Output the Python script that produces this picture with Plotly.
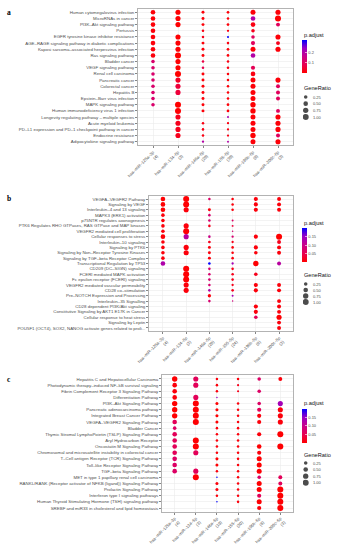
import math
import plotly.graph_objects as go

N = None
W, H = 338, 550

mirnas = ["hsa–miR–125a–3p", "hsa–miR–134–5p", "hsa–miR–146a–5p",
          "hsa–miR–155–5p", "hsa–miR–196b–5p", "hsa–miR–200c–5p"]
a_counts = [4, 3, 20, 30, 8, 3]
b_counts = [4, 3, 20, 24, 8, 3]
c_counts = [4, 3, 19, 30, 8, 3]
size_levels = [0.25, 0.50, 0.75, 1.00]
size_level_text = ["0.25", "0.50", "0.75", "1.00"]

# ---------------- panel a (KEGG) ----------------
a_terms = ["Human cytomegalovirus infection", "MicroRNAs in cancer", "PI3K–Akt signaling pathway",
           "Pertussis", "EGFR tyrosine kinase inhibitor resistance",
           "AGE–RAGE signaling pathway in diabetic complications",
           "Kaposi sarcoma–associated herpesvirus infection", "Ras signaling pathway",
           "Bladder cancer", "VEGF signaling pathway", "Renal cell carcinoma", "Pancreatic cancer",
           "Colorectal cancer", "Hepatitis B", "Epstein–Barr virus infection",
           "MAPK signaling pathway", "Human immunodeficiency virus 1 infection",
           "Longevity regulating pathway – multiple species", "Acute myeloid leukemia",
           "PD–L1 expression and PD–1 checkpoint pathway in cancer", "Endocrine resistance",
           "Adipocytokine signaling pathway"]
a_ratio_125a = [0.5, 0.5, 0.5, 0.5, 0.5, 0.5, 0.5, 0.5, 0.25, 0.25, 0.25, 0.25, 0.25, 0.25, 0.25, 0.25, N, N, N, N, N, N]
a_padj_125a = [0.01, 0.01, 0.01, 0.012, 0.012, 0.012, 0.012, 0.014, 0.12, 0.12, 0.12, 0.12, 0.12, 0.12, 0.12, 0.12, N, N, N, N, N, N]
a_ratio_134 = [0.67, 0.67, 0.67, N, 0.67, 0.67, 0.67, 1.0, 0.67, 0.67, 1.0, 0.67, 0.67, 0.67, N, 1.0, 1.0, 0.67, 0.67, 0.67, 0.67, N]
a_padj_134 = [0.004, 0.006, 0.004, N, 0.005, 0.006, 0.004, 0.002, 0.005, 0.005, 0.002, 0.04, 0.06, 0.06, N, 0.002, 0.004, 0.03, 0.03, 0.03, 0.03, N]
a_ratio_146a = [0.15, 0.15, 0.15, 0.1, 0.1, 0.15, 0.15, 0.15, 0.1, 0.1, 0.15, 0.15, 0.15, 0.15, 0.15, 0.15, 0.15, N, 0.1, 0.1, 0.1, 0.08]
a_padj_146a = [0.01, 0.01, 0.01, 0.02, 0.03, 0.01, 0.01, 0.01, 0.07, 0.08, 0.01, 0.01, 0.01, 0.01, 0.01, 0.01, 0.01, N, 0.02, 0.02, 0.02, 0.2]
a_ratio_155 = [0.12, 0.1, 0.12, 0.08, 0.06, 0.1, 0.12, 0.12, 0.1, 0.1, 0.1, 0.1, 0.1, 0.1, 0.1, 0.12, 0.12, 0.06, 0.08, 0.08, 0.08, 0.06]
a_padj_155 = [0.01, 0.01, 0.01, 0.02, 0.32, 0.02, 0.01, 0.01, 0.02, 0.02, 0.01, 0.01, 0.01, 0.01, 0.01, 0.01, 0.01, 0.22, 0.02, 0.02, 0.02, 0.2]
a_ratio_196b = [0.625, 0.5, 0.5, 0.25, 0.25, 0.375, 0.625, 0.5, N, 0.375, 0.5, 0.625, 0.625, 0.625, 0.625, 0.75, 0.75, 0.625, 0.625, 0.625, 0.75, 0.625]
a_padj_196b = [0.01, 0.2, 0.02, 0.03, 0.1, 0.1, 0.01, 0.2, N, 0.09, 0.02, 0.01, 0.01, 0.01, 0.01, 0.005, 0.005, 0.01, 0.01, 0.01, 0.005, 0.01]
a_ratio_200c = [0.67, 1.0, 0.33, N, 0.67, 0.33, 0.67, N, N, N, N, 0.67, 0.33, 0.33, 0.33, N, 0.33, 0.67, 0.67, 0.67, 0.33, 0.67]
a_padj_200c = [0.01, 0.005, 0.1, N, 0.01, 0.03, 0.01, N, N, N, N, 0.01, 0.1, 0.1, 0.1, N, 0.1, 0.01, 0.01, 0.01, 0.1, 0.01]

# ---------------- panel b (Reactome) ----------------
b_terms = ["VEGFA–VEGFR2 Pathway", "Signaling by VEGF", "Interleukin–4 and 13 signaling",
           "MAPK3 (ERK1) activation", "p75NTR regulates axonogenesis",
           "PTK6 Regulates RHO GTPases, RAS GTPase and MAP kinases",
           "VEGFR2 mediated cell proliferation", "Cellular responses to stress",
           "Interleukin–10 signaling", "Signaling by PTK6", "Signaling by Non–Receptor Tyrosine Kinases",
           "Signaling by TGF–beta Receptor Complex", "Transcriptional Regulation by TP53",
           "CD209 (DC–SIGN) signaling", "FCERI mediated MAPK activation",
           "Fc epsilon receptor (FCERI) signaling", "VEGFR2 mediated vascular permeability",
           "CD28 co–stimulation", "Pre–NOTCH Expression and Processing", "Interleukin–35 Signalling",
           "CD28 dependent PI3K/Akt signaling", "Constitutive Signaling by AKT1 E17K in Cancer",
           "Cellular response to heat stress", "Signaling by Leptin",
           "POU5F1 (OCT4), SOX2, NANOG activate genes related to proli..."]
b_ratio_125a = [0.5, 0.5, 0.5, 0.25, 0.25, 0.25, 0.25, 0.5, 0.25, 0.25, 0.25, 0.25, 0.5, N, N, N, N, N, N, N, N, N, N, N, N]
b_padj_125a = [0.005, 0.005, 0.005, 0.01, 0.01, 0.01, 0.01, 0.008, 0.01, 0.01, 0.01, 0.01, 0.13, N, N, N, N, N, N, N, N, N, N, N, N]
b_ratio_134 = [1.0, 1.0, 0.67, N, N, 0.67, 1.0, 0.67, N, 0.67, 0.67, N, N, 1.0, 1.0, 1.0, 0.67, 0.67, N, N, N, N, N, N, N]
b_padj_134 = [0.005, 0.005, 0.01, N, N, 0.01, 0.005, 0.12, N, 0.01, 0.01, N, N, 0.005, 0.005, 0.005, 0.01, 0.01, N, N, N, N, N, N, N]
b_ratio_146a = [0.1, N, 0.15, 0.1, 0.1, 0.1, N, 0.1, 0.12, 0.15, 0.15, 0.15, 0.1, 0.1, 0.1, 0.1, 0.1, 0.1, 0.2, 0.1, N, N, N, N, N]
b_padj_146a = [0.07, N, 0.01, 0.08, 0.08, 0.02, N, 0.1, 0.02, 0.01, 0.01, 0.01, 0.2, 0.08, 0.08, 0.08, 0.08, 0.13, 0.01, 0.08, N, N, N, N, N]
b_ratio_155 = [0.1, 0.1, 0.1, N, 0.06, 0.06, 0.05, 0.08, 0.08, 0.1, 0.1, 0.1, 0.08, 0.1, 0.1, 0.1, 0.08, 0.1, 0.06, 0.05, N, N, N, N, N]
b_padj_155 = [0.01, 0.01, 0.01, N, 0.07, 0.04, 0.08, 0.08, 0.02, 0.01, 0.01, 0.01, 0.14, 0.02, 0.02, 0.02, 0.02, 0.02, 0.14, 0.09, N, N, N, N, N]
b_ratio_196b = [0.375, 0.375, 0.375, N, N, N, N, 0.375, N, 0.375, 0.25, N, 0.75, N, 0.25, N, 0.375, 0.375, N, N, 0.375, 0.375, 0.25, N, N]
b_padj_196b = [0.01, 0.01, 0.01, N, N, N, N, 0.01, N, 0.01, 0.01, N, 0.005, N, 0.02, N, 0.01, 0.01, N, N, 0.01, 0.01, 0.06, N, N]
b_ratio_200c = [0.33, 0.33, 0.33, N, N, N, N, 1.0, 0.33, 0.33, 0.33, N, 0.33, N, N, N, 0.33, 0.33, N, 0.33, 0.33, 0.33, 0.67, 0.33, 0.33]
b_padj_200c = [0.01, 0.01, 0.01, N, N, N, N, 0.003, 0.02, 0.01, 0.01, N, 0.12, N, N, N, 0.01, 0.01, N, 0.01, 0.01, 0.01, 0.005, 0.01, 0.01]

# ---------------- panel c (WikiPathways) ----------------
c_terms = ["Hepatitis C and Hepatocellular Carcinoma",
           "Photodynamic therapy–induced NF–kB survival signaling",
           "Fibrin Complement Receptor 3 Signaling Pathway", "Differentiation Pathway",
           "PI3K–Akt Signaling Pathway", "Pancreatic adenocarcinoma pathway",
           "Integrated Breast Cancer Pathway", "VEGFA–VEGFR2 Signaling Pathway", "Bladder Cancer",
           "Thymic Stromal LymphoPoietin (TSLP) Signaling Pathway", "Aryl Hydrocarbon Receptor",
           "Oncostatin M Signaling Pathway",
           "Chromosomal and microsatellite instability in colorectal cancer",
           "T–Cell antigen Receptor (TCR) Signaling Pathway", "Toll–like Receptor Signaling Pathway",
           "TGF–beta Signaling Pathway", "MET in type 1 papillary renal cell carcinoma",
           "RANKL/RANK (Receptor activator of NFKB (ligand)) Signaling Pathway",
           "Prolactin Signaling Pathway", "Interferon type I signaling pathways",
           "Human Thyroid Stimulating Hormone (TSH) signaling pathway",
           "SREBF and miR33 in cholesterol and lipid homeostasis"]
c_ratio_125a = [0.75, 0.5, 0.5, 0.5, 0.75, 0.75, 0.75, 0.5, 0.25, 0.5, 0.5, 0.5, 0.5, 0.5, 0.5, 0.5, N, N, N, N, N, N]
c_padj_125a = [0.005, 0.01, 0.01, 0.01, 0.003, 0.003, 0.003, 0.06, 0.07, 0.06, 0.06, 0.06, 0.06, 0.07, 0.07, 0.07, N, N, N, N, N, N]
c_ratio_134 = [0.67, 0.67, N, 0.67, 1.0, 1.0, 1.0, 1.0, N, N, 1.0, 1.0, 0.67, N, N, 0.67, 1.0, N, N, N, N, N]
c_padj_134 = [0.06, 0.06, N, 0.06, 0.005, 0.005, 0.005, 0.005, N, N, 0.005, 0.005, 0.06, N, N, 0.06, 0.005, N, N, N, N, N]
c_ratio_146a = [0.1, 0.1, 0.1, 0.05, 0.16, 0.16, 0.16, 0.16, 0.1, 0.1, 0.1, 0.1, 0.1, 0.16, 0.16, 0.1, 0.05, 0.16, 0.16, 0.1, 0.05, N]
c_padj_146a = [0.01, 0.01, 0.01, 0.15, 0.005, 0.005, 0.005, 0.005, 0.01, 0.01, 0.01, 0.01, 0.01, 0.005, 0.005, 0.01, 0.2, 0.01, 0.01, 0.01, 0.2, N]
c_ratio_155 = [0.1, 0.07, 0.07, N, 0.1, 0.1, 0.1, 0.1, 0.1, 0.1, 0.1, 0.1, 0.1, 0.1, 0.1, 0.1, 0.1, 0.1, 0.1, 0.1, 0.1, N]
c_padj_155 = [0.01, 0.02, 0.02, N, 0.01, 0.01, 0.01, 0.01, 0.01, 0.01, 0.01, 0.01, 0.01, 0.01, 0.01, 0.01, 0.01, 0.01, 0.01, 0.01, 0.01, N]
c_ratio_196b = [0.25, N, 0.25, N, 0.25, 0.375, 0.375, 0.375, N, 0.375, N, 0.5, 0.375, 0.625, 0.625, 0.625, 0.25, 0.625, 0.625, 0.375, 0.625, 0.375]
c_padj_196b = [0.07, N, 0.07, N, 0.07, 0.06, 0.01, 0.01, N, 0.01, N, 0.005, 0.01, 0.005, 0.005, 0.005, 0.07, 0.005, 0.005, 0.06, 0.005, 0.01]
c_ratio_200c = [0.33, N, N, N, 0.67, 0.67, 0.67, 0.67, N, 1.0, N, 1.0, N, N, N, N, 0.33, 0.33, 1.0, 1.0, 1.0, 1.0]
c_padj_200c = [0.01, N, N, N, 0.14, 0.01, 0.01, 0.01, N, 0.005, N, 0.005, N, N, N, N, 0.06, 0.06, 0.005, 0.005, 0.005, 0.005]

# ---------------- styling / layout helpers ----------------
FONT = "Liberation Sans"
COLORSCALE = [[0.0, "#FF0000"], [0.25, "#E8004F"], [0.5, "#C90088"], [0.75, "#9A00C3"], [1.0, "#0000FF"]]


def size_px(r):
    return 1.5 + 4.5 * math.sqrt(max(r - 0.05, 0) / 0.95)


def px_x(p):
    return p / W


def px_y(p):
    return 1 - p / H


panels = [
    dict(label="a", terms=a_terms, counts=a_counts,
         ratios=[a_ratio_125a, a_ratio_134, a_ratio_146a, a_ratio_155, a_ratio_196b, a_ratio_200c],
         padjs=[a_padj_125a, a_padj_134, a_padj_146a, a_padj_155, a_padj_196b, a_padj_200c],
         box=(138, 8.6, 293, 145.4), label_y=12, cb_top=40, cb_len=33, cb_ticks=[0.1, 0.2],
         cb_ticktext=["0.1", "0.2"], cb_title_y=35, leg_title_y=88.5, leg_first=97, leg_last=117),
    dict(label="b", terms=b_terms, counts=b_counts,
         ratios=[b_ratio_125a, b_ratio_134, b_ratio_146a, b_ratio_155, b_ratio_196b, b_ratio_200c],
         padjs=[b_padj_125a, b_padj_134, b_padj_146a, b_padj_155, b_padj_196b, b_padj_200c],
         box=(149, 195.8, 293, 331.2), label_y=198, cb_top=228, cb_len=33.5, cb_ticks=[0.05, 0.10, 0.15],
         cb_ticktext=["0.05", "0.10", "0.15"], cb_title_y=223, leg_title_y=275, leg_first=284, leg_last=302),
    dict(label="c", terms=c_terms, counts=c_counts,
         ratios=[c_ratio_125a, c_ratio_134, c_ratio_146a, c_ratio_155, c_ratio_196b, c_ratio_200c],
         padjs=[c_padj_125a, c_padj_134, c_padj_146a, c_padj_155, c_padj_196b, c_padj_200c],
         box=(162, 375.3, 293, 511.7), label_y=379, cb_top=408.5, cb_len=34, cb_ticks=[0.05, 0.10, 0.15],
         cb_ticktext=["0.05", "0.10", "0.15"], cb_title_y=403, leg_title_y=455, leg_first=463, leg_last=482.7),
]

fig = go.Figure()
layout = dict(width=W, height=H, margin=dict(l=0, r=0, t=0, b=0, pad=0, autoexpand=False),
              paper_bgcolor="white", plot_bgcolor="white", showlegend=False,
              font=dict(family=FONT, size=4.4, color="#4d4d4d"))
annotations = []

for i, pnl in enumerate(panels):
    k = i + 1
    sfx = "" if k == 1 else str(k)
    terms = pnl["terms"]
    xcats = [f"{m}<br>({n})" for m, n in zip(mirnas, pnl["counts"])]
    xs, ys, cs, ss = [], [], [], []
    for ci, (rat, pad) in enumerate(zip(pnl["ratios"], pnl["padjs"])):
        assert len(rat) == len(terms) and len(pad) == len(terms)
        for ri, (r, p) in enumerate(zip(rat, pad)):
            if r is None:
                continue
            xs.append(xcats[ci])
            ys.append(terms[ri])
            cs.append(p)
            ss.append(size_px(r))
    allp = [p for col in pnl["padjs"] for p in col if p is not None]
    fig.add_trace(go.Scatter(
        x=xs, y=ys, mode="markers", xaxis="x" + sfx, yaxis="y" + sfx,
        marker=dict(size=ss, color=cs, coloraxis="coloraxis" + sfx, line=dict(width=0), opacity=1),
        hoverinfo="skip"))

    x0, y0, x1, y1 = pnl["box"]
    n = len(terms)
    layout["xaxis" + sfx] = dict(
        domain=[px_x(x0), px_x(x1)], anchor="y" + sfx, type="category",
        categoryorder="array", categoryarray=xcats, range=[-0.6, 5.6],
        tickangle=-45, tickfont=dict(size=4.2, color="#4d4d4d", family=FONT),
        ticks="outside", ticklen=2, tickwidth=0.6, tickcolor="#333",
        showline=True, mirror=True, linecolor="#a0a0a0", linewidth=0.8,
        showgrid=True, gridcolor="#ebebeb", gridwidth=0.6, zeroline=False, fixedrange=True)
    layout["yaxis" + sfx] = dict(
        domain=[px_y(y1), px_y(y0)], anchor="x" + sfx, type="category",
        categoryorder="array", categoryarray=terms, range=[n - 0.4, -0.6],
        tickfont=dict(size=4.4, color="#4d4d4d", family=FONT),
        ticks="outside", ticklen=2, tickwidth=0.6, tickcolor="#333",
        showline=True, mirror=True, linecolor="#a0a0a0", linewidth=0.8,
        showgrid=True, gridcolor="#ebebeb", gridwidth=0.6, zeroline=False, fixedrange=True)

    layout["coloraxis" + sfx] = dict(
        colorscale=COLORSCALE, cmin=min(allp), cmax=max(allp),
        colorbar=dict(x=px_x(302), xanchor="left", y=px_y(pnl["cb_top"]), yanchor="top",
                      len=pnl["cb_len"], lenmode="pixels", thickness=5, thicknessmode="pixels",
                      xpad=0, ypad=0, outlinewidth=0,
                      tickvals=pnl["cb_ticks"], ticktext=pnl["cb_ticktext"],
                      ticks="inside", ticklen=1.5, tickcolor="white", tickwidth=0.6,
                      tickfont=dict(size=4, color="#4d4d4d", family=FONT)))

    # size legend on its own hidden axis
    lk = k + 3
    lp0, lp1 = pnl["leg_first"], pnl["leg_last"]
    scale = (lp1 - lp0) / (size_levels[-1] - size_levels[0])
    pad = 8
    top_px, bot_px = lp0 - pad, lp1 + pad
    layout[f"xaxis{lk}"] = dict(domain=[px_x(303), px_x(333)], range=[0, 30], visible=False,
                                anchor=f"y{lk}", fixedrange=True)
    layout[f"yaxis{lk}"] = dict(domain=[px_y(bot_px), px_y(top_px)],
                                range=[size_levels[-1] + pad / scale, size_levels[0] - pad / scale],
                                visible=False, anchor=f"x{lk}", fixedrange=True)
    fig.add_trace(go.Scatter(
        x=[2.7] * len(size_levels), y=size_levels, mode="markers",
        xaxis=f"x{lk}", yaxis=f"y{lk}",
        marker=dict(size=[size_px(v) for v in size_levels], color="black", line=dict(width=0)),
        hoverinfo="skip"))
    for v, t in zip(size_levels, size_level_text):
        annotations.append(dict(x=8, y=v, xref=f"x{lk}", yref=f"y{lk}", text=t, showarrow=False,
                                xanchor="left", yanchor="middle",
                                font=dict(size=4, color="#4d4d4d", family=FONT)))

    annotations.append(dict(x=px_x(301.5), y=px_y(pnl["cb_title_y"]), xref="paper", yref="paper",
                            text="p.adjust", showarrow=False, xanchor="left", yanchor="middle",
                            font=dict(size=5.6, color="#111", family=FONT)))
    annotations.append(dict(x=px_x(301.5), y=px_y(pnl["leg_title_y"]), xref="paper", yref="paper",
                            text="GeneRatio", showarrow=False, xanchor="left", yanchor="middle",
                            font=dict(size=5.6, color="#111", family=FONT)))
    annotations.append(dict(x=px_x(5), y=px_y(pnl["label_y"]), xref="paper", yref="paper",
                            text=f"<b>{pnl['label']}</b>", showarrow=False, xanchor="left",
                            yanchor="middle", font=dict(size=7.5, color="black", family="Liberation Serif")))

layout["annotations"] = annotations
fig.update_layout(**layout)
fig.write_html("out.html", config={"displayModeBar": False, "staticPlot": True},
               post_script="document.body.style.margin='0';")
